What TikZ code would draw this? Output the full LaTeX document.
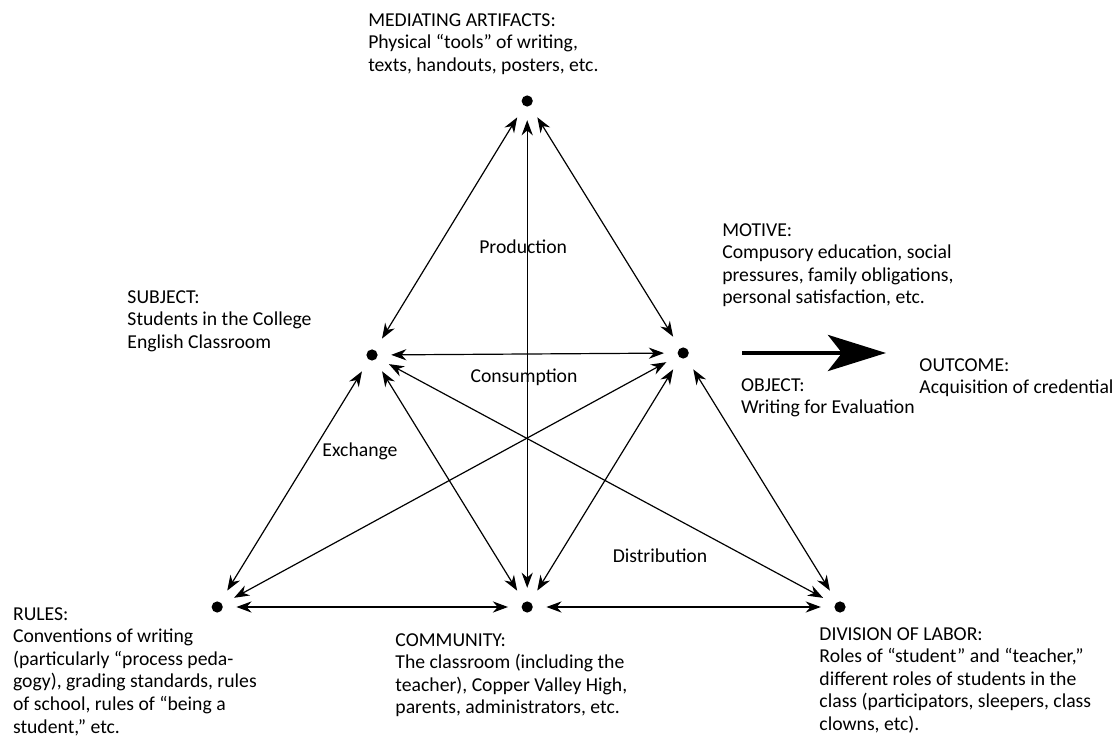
\documentclass[tikz,border=0pt]{standalone}
\usepackage{fontspec}
\setmainfont{Carlito}
\usetikzlibrary{arrows.meta}
\begin{document}
\begin{tikzpicture}[
  dot/.style={circle, fill, inner sep=0pt, minimum size=2.8mm, outer sep=3.4mm},
  link/.style={{Stealth[length=3.8mm,width=2.8mm]}-{Stealth[length=3.8mm,width=2.8mm]}, line width=.85pt},
  info/.style={anchor=north west, align=left, inner sep=0pt, font=\fontsize{14}{16.1}\selectfont},
  word/.style={inner sep=0pt, font=\fontsize{14}{16.1}\selectfont}]
\useasboundingbox (0,0) rectangle (27.975,18.475);
% the six corners
\node[dot] (art) at (13.18,15.95) {};
\node[dot] (subj) at (9.30,9.60) {};
\node[dot] (obj) at (17.08,9.65) {};
\node[dot] (rules) at (5.43,3.30) {};
\node[dot] (comm) at (13.18,3.30) {};
\node[dot] (div) at (21.00,3.30) {};
% links
\draw[link] (art)--(subj);
\draw[link] (art)--(obj);
\draw[link] (art)--(comm);
\draw[link] (subj)--(obj);
\draw[link] (subj)--(rules);
\draw[link] (subj)--(comm);
\draw[link] (subj)--(div);
\draw[link] (obj)--(rules);
\draw[link] (obj)--(comm);
\draw[link] (obj)--(div);
\draw[link] (rules)--(comm);
\draw[link] (comm)--(div);
% object to outcome
\coordinate (outfrom) at (18.55,9.65);
\coordinate (outto) at (22.15,9.65);
\draw[line width=3.5pt, -{Stealth[length=1.45cm,width=.9cm,inset=.35cm]}] (outfrom)--(outto);
% inner labels
\node[word] (prod) at (13.08,12.30) {Production};
\node[word] (cons) at (13.10,9.05) {Consumption};
\node[word] (exch) at (9.00,7.20) {Exchange};
\node[word] (dist) at (16.50,4.58) {Distribution};
% corner texts
\node[info] (arttext) at (9.20,18.15) {MEDIATING ARTIFACTS:\\Physical “tools” of writing,\\texts, handouts, posters, etc.};
\node[info] (motive) at (18.05,12.90) {MOTIVE:\\Compusory education, social\\pressures, family obligations,\\personal satisfaction, etc.};
\node[info] (subjtext) at (3.18,11.22) {SUBJECT:\\Students in the College\\English Classroom};
\node[info] (objtext) at (18.52,9.02) {OBJECT:\\Writing for Evaluation};
\node[info] (outcome) at (22.98,9.52) {OUTCOME:\\Acquisition of credential};
\node[info] (rulestext) at (0.32,3.30) {RULES:\\Conventions of writing\\(particularly “process peda-\\gogy), grading standards, rules\\of school, rules of “being a\\student,” etc.};
\node[info] (commtext) at (9.88,2.65) {COMMUNITY:\\The classroom (including the\\teacher), Copper Valley High,\\parents, administrators, etc.};
\node[info] (divtext) at (20.48,2.80) {DIVISION OF LABOR:\\Roles of “student” and “teacher,”\\different roles of students in the\\class (participators, sleepers, class\\clowns, etc).};
\end{tikzpicture}
\end{document}
